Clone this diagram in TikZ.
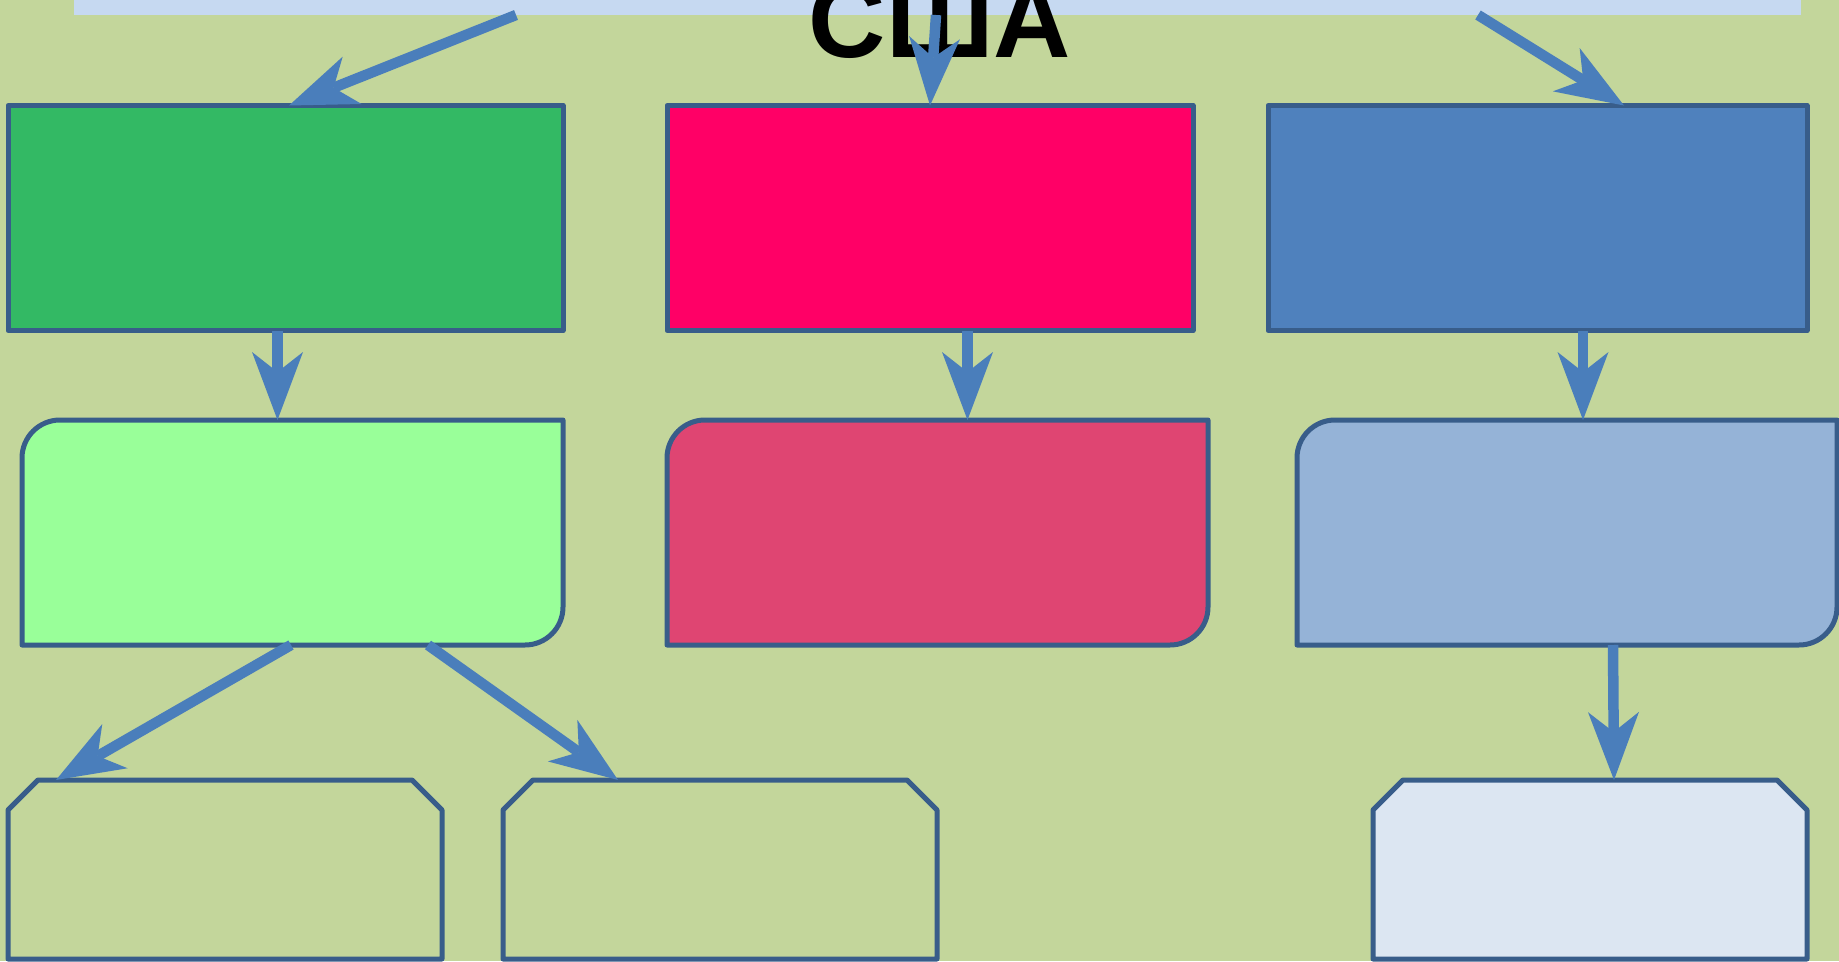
\documentclass[tikz,border=0pt]{standalone}
\usepackage{fontspec}
\setmainfont{Liberation Sans}
\usetikzlibrary{arrows.meta}
\definecolor{bgolive}{HTML}{C3D69B}
\definecolor{bandblue}{HTML}{C6D9F1}
\definecolor{edgeblue}{HTML}{385D8A}
\definecolor{arrowblue}{HTML}{4A7EBB}
\definecolor{topgreen}{HTML}{33B964}
\definecolor{topred}{HTML}{FF0066}
\definecolor{topblue}{HTML}{4F81BD}
\definecolor{midgreen}{HTML}{99FF99}
\definecolor{midred}{HTML}{DF4572}
\definecolor{midblue}{HTML}{95B3D7}
\definecolor{palest}{HTML}{DCE6F2}
\tikzset{box/.style={draw=edgeblue, line width=5pt, line join=round, inner sep=0pt, outer sep=0pt, minimum height=225pt},
%rows two and three: outline is drawn by hand below
plainbox/.style={inner sep=0pt, outer sep=0pt, minimum height=225pt},
snipbox/.style={inner sep=0pt, outer sep=0pt, minimum width=434pt, minimum height=179pt},
outline/.style={draw=edgeblue, line width=5pt, line join=round},
arr/.style={draw=arrowblue, line width=10.5pt, -{Stealth[length=68pt,width=51pt,inset=20pt,line width=0pt]}}}

\begin{document}
\begin{tikzpicture}[x=1pt,y=-1pt]
\useasboundingbox (0,0) rectangle (1839,961);
\clip (0,0) rectangle (1839,961);
\fill[bgolive] (0,0) rectangle (1839,961);

% top band and title
\node[fill=bandblue, minimum width=1727pt, minimum height=15pt, inner sep=0pt, outer sep=0pt, anchor=north west] (band) at (74,0) {};
\node[font=\fontsize{107}{110}\selectfont\bfseries, anchor=base, inner sep=0pt] (title) at (940,57) {США};

% first row
\node[box, fill=topgreen, minimum width=555pt] (g1) at (285.5,218) {};
\node[box, fill=topred, minimum width=526pt] (r1) at (930,218) {};
\node[box, fill=topblue, minimum width=539pt] (b1) at (1537.5,218) {};

% second row
\node[plainbox, minimum width=541pt] (g2) at (292.5,532.5) {};
\node[plainbox, minimum width=541pt] (r2) at (937.5,532.5) {};
\node[plainbox, minimum width=540pt] (b2) at (1567,532.5) {};
\foreach \n/\c in {g2/midgreen, r2/midred, b2/midblue}
  \draw[outline, fill=\c]
    (\n.north east) -- ([yshift=38pt]\n.south east) arc[start angle=0, end angle=-90, radius=38pt]
    -- (\n.south west) -- ([yshift=-38pt]\n.north west) arc[start angle=180, end angle=90, radius=38pt] -- cycle;

% third row
\node[snipbox] (g3) at (225,869.5) {};
\node[snipbox] (m3) at (720,869.5) {};
\node[snipbox] (b3) at (1590,869.5) {};
\foreach \n/\c in {g3/bgolive, m3/bgolive, b3/palest}
  \draw[outline, fill=\c]
    ([xshift=30pt]\n.north west) -- ([xshift=-30pt]\n.north east) -- ([yshift=-30pt]\n.north east)
    -- (\n.south east) -- (\n.south west) -- ([yshift=-30pt]\n.north west) -- cycle;

% arrows
\draw[arr] ([xshift=442pt]band.south west) -- ([xshift=281pt]g1.north west);
\draw[arr] ([xshift=862pt]band.south west) -- ([xshift=263pt]r1.north west);
\draw[arr] ([xshift=1404pt]band.south west) -- ([xshift=356pt]b1.north west);

\draw[arr] ([xshift=269.5pt]g1.south west) -- ([xshift=255.5pt]g2.north west);
\draw[arr] ([xshift=300.5pt]r1.south west) -- ([xshift=300.5pt]r2.north west);
\draw[arr] ([xshift=315pt]b1.south west) -- ([xshift=286pt]b2.north west);

\draw[arr] ([xshift=269pt]g2.south west) -- ([xshift=-169pt]g3.north);
\draw[arr] ([xshift=406pt]g2.south west) -- ([xshift=-102pt]m3.north);
\draw[arr] ([xshift=316pt]b2.south west) -- ([xshift=24pt]b3.north);

\end{tikzpicture}
\end{document}
